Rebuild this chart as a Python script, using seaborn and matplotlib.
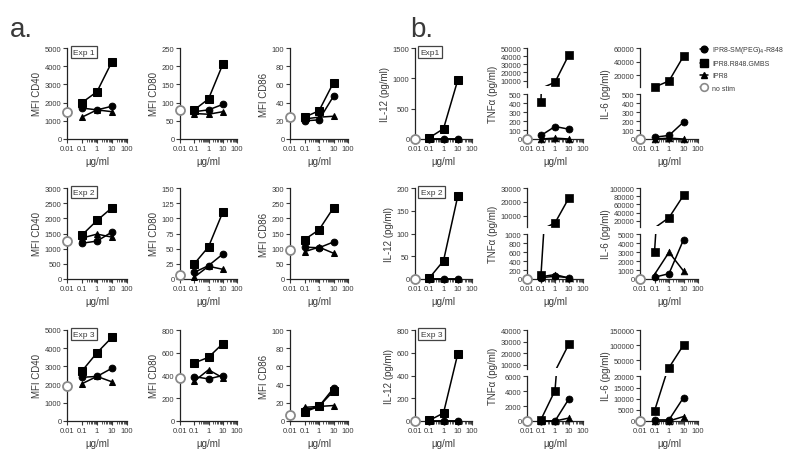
import numpy as np
import matplotlib
matplotlib.use("Agg")
import matplotlib.pyplot as plt
import seaborn as sns
from matplotlib.lines import Line2D
from matplotlib.patches import Rectangle
from matplotlib.ticker import FixedLocator, NullFormatter

# doses (µg/ml); "no stim" is drawn at the left edge of the axis
doses = [0.1, 1, 10]
nostim_dose = 0.01

# ---- panel a: MFI, one row per experiment ----
cd40_gmbs = [[2000, 2600, 4250], [1450, 1930, 2350], [2750, 3750, 4600]]
cd40_peg = [[1700, 1600, 1800], [1180, 1250, 1550], [2400, 2450, 2900]]
cd40_ipr8 = [[1200, 1600, 1500], [1350, 1480, 1380], [2050, 2450, 2150]]
cd40_nostim = [1500, 1250, 1900]
cd40_ymax = [5000, 3000, 5000]
cd40_ystep = [1000, 500, 1000]

cd80_gmbs = [[80, 110, 205], [25, 53, 110], [510, 560, 680]]
cd80_peg = [[75, 80, 95], [11, 22, 41], [390, 370, 400]]
cd80_ipr8 = [[70, 68, 75], [3, 21, 16], [350, 450, 380]]
cd80_nostim = [80, 6, 380]
cd80_ymax = [250, 150, 800]
cd80_ystep = [50, 25, 200]

cd86_gmbs = [[24, 31, 62], [130, 162, 235], [10, 16, 33]]
cd86_peg = [[20, 21, 47], [105, 103, 122], [12, 16, 36]]
cd86_ipr8 = [[22, 24, 25], [90, 105, 85], [15, 16, 17]]
cd86_nostim = [24, 95, 7]
cd86_ymax = [100, 300, 100]
cd86_ystep = [20, 50, 20]

# ---- panel b: cytokines (pg/ml) ----
il12_gmbs = [[20, 170, 970], [2, 40, 182], [5, 70, 590]]
il12_peg = [[0, 0, 0], [0, 0, 0], [0, 0, 0]]
il12_ipr8 = [[0, 0, 0], [0, 0, 0], [0, 0, 0]]
il12_nostim = [0, 0, 0]
il12_ymax = [1500, 200, 800]
il12_ystep = [500, 50, 200]

tnf_gmbs = [[420, 8000, 42000], [100, 5000, 23000], [200, 4100, 28000]]
tnf_peg = [[40, 140, 110], [30, 60, 30], [0, 0, 3000]]
tnf_ipr8 = [[0, 10, 0], [50, 100, 20], [0, 0, 400]]
tnf_nostim = [0, 0, 0]
tnf_low_max = [500, 1000, 6000]
tnf_low_step = [100, 200, 2000]
tnf_high_lim = [(2000, 50000), (2000, 30000), (6000, 40000)]
tnf_high_ticks = [[10000, 20000, 30000, 40000, 50000], [10000, 20000, 30000],
                  [10000, 20000, 30000, 40000]]

il6_gmbs = [[3000, 12000, 48000], [3000, 28000, 82000], [4500, 25000, 100000]]
il6_peg = [[20, 40, 190], [200, 600, 4400], [500, 500, 10500]]
il6_ipr8 = [[0, 10, 0], [500, 3000, 900], [0, 0, 2000]]
il6_nostim = [0, 0, 0]
il6_low_max = [500, 5000, 20000]
il6_low_step = [100, 1000, 5000]
il6_high_lim = [(3000, 60000), (5000, 100000), (20000, 150000)]
il6_high_ticks = [[20000, 40000, 60000], [20000, 40000, 60000, 80000, 100000],
                  [50000, 100000, 150000]]

exp_a = ["Exp 1", "Exp 2", "Exp 3"]
exp_b = ["Exp1", "Exp 2", "Exp 3"]
legend_labels = ["IPR8-SM(PEG)$_4$-R848", "IPR8.R848.GMBS", "IPR8", "no stim"]

sns.set_style("ticks")
plt.rcParams['font.family'] = ['Liberation Sans', 'DejaVu Sans']
TXT = "#3a3a3a"
plt.rcParams.update({"text.color": TXT, "axes.labelcolor": TXT,
                     "xtick.color": TXT, "ytick.color": TXT,
                     "axes.edgecolor": "#222222", "axes.linewidth": 0.9})

W, H = 800, 464
fig = plt.figure(figsize=(8, 4.64), dpi=100)


def box(x0, x1, y0, y1):
    return [x0 / W, 1 - y1 / H, (x1 - x0) / W, (y1 - y0) / H]


cols_a = [(67, 127), (180, 237), (290, 348)]
cols_b = [(415, 472), (527, 583), (640, 698)]
rows = [(49, 140), (189, 280), (331, 422)]

LW = 1.1
# marker, markersize (pt) for each series
MK = {"peg": ("o", 4.8), "gmbs": ("s", 5.2), "ipr8": ("^", 4.6)}


def style_x(ax, show=True):
    ax.set_xscale("log")
    ax.set_xlim(0.01, 100)
    if not show:
        ax.spines["bottom"].set_visible(False)
        ax.tick_params(axis="x", which="both", bottom=False, labelbottom=False)
        return
    ax.xaxis.set_major_locator(FixedLocator([0.01, 0.1, 1, 10, 100]))
    ax.set_xticklabels(["0.01", "0.1", "1", "10", "100"])
    minors = [m * d for d in (0.1, 1, 10) for m in range(2, 10)]
    ax.xaxis.set_minor_locator(FixedLocator(minors))
    ax.xaxis.set_minor_formatter(NullFormatter())
    ax.tick_params(axis="x", which="major", length=3, width=0.8, labelsize=5.5, pad=1.5)
    ax.tick_params(axis="x", which="minor", length=2, width=0.6)
    ax.set_xlabel("µg/ml", fontsize=7, labelpad=3)


def style_y(ax, lim, ticks):
    ax.set_ylim(*lim)
    ax.yaxis.set_major_locator(FixedLocator(ticks))
    ax.set_yticklabels([str(t) for t in ticks])
    ax.tick_params(axis="y", length=3, width=0.8, labelsize=5.5, pad=1)
    ax.spines["top"].set_visible(False)
    ax.spines["right"].set_visible(False)


def draw(ax, gmbs, peg, ipr8, nostim):
    for key, vals in (("ipr8", ipr8), ("peg", peg), ("gmbs", gmbs)):
        m, ms = MK[key]
        sns.lineplot(x=doses, y=vals, ax=ax, color="black", marker=m, markersize=ms,
                     markeredgecolor="black", linewidth=LW, zorder=4)
    sns.scatterplot(x=[nostim_dose], y=[nostim], ax=ax, marker="o", s=42,
                    facecolor="white", edgecolor="#8a8a8a", linewidth=1.3, zorder=6)
    for art in list(ax.lines) + list(ax.collections):
        art.set_clip_on(False)


def draw_segment(ax, gmbs, peg, ipr8, nostim, lo, hi, lower):
    # lines are clipped to the segment, markers only where the value falls inside it
    if lower:
        clip = ((-0.1, -0.2), 1.2, 1.2)
    else:
        clip = ((-0.1, 0.04), 1.2, 1.2)
    for key, vals in (("ipr8", ipr8), ("peg", peg), ("gmbs", gmbs)):
        m, ms = MK[key]
        sns.lineplot(x=doses, y=vals, ax=ax, color="black", linewidth=LW, zorder=4)
        ax.lines[-1].set_clip_path(Rectangle(clip[0], clip[1], clip[2], transform=ax.transAxes))
        xs = [d for d, v in zip(doses, vals) if lo <= v <= hi]
        ys = [v for v in vals if lo <= v <= hi]
        if xs:
            sns.scatterplot(x=xs, y=ys, ax=ax, marker=m, s=(ms * 1.05) ** 2, color="black",
                            edgecolor="black", linewidth=0.5, zorder=5, clip_on=False)
    if lower:
        sns.scatterplot(x=[nostim_dose], y=[nostim], ax=ax, marker="o", s=42,
                        facecolor="white", edgecolor="#8a8a8a", linewidth=1.3, zorder=6,
                        clip_on=False)


def simple_panel(xr, yr, gmbs, peg, ipr8, nostim, ymax, ystep, ylabel, exp=None):
    ax = fig.add_axes(box(xr[0], xr[1], yr[0], yr[1]))
    style_x(ax)
    style_y(ax, (0, ymax), list(range(0, ymax + 1, ystep)))
    draw(ax, gmbs, peg, ipr8, nostim)
    ax.set_ylabel(ylabel, fontsize=7, labelpad=2)
    if exp:
        ax.text(0.1, 0.99, exp, transform=ax.transAxes, va="top", ha="left", fontsize=6,
                bbox=dict(boxstyle="square,pad=0.3", fc="white", ec="#444444", lw=0.9))
    return ax


def broken_panel(xr, yr, gmbs, peg, ipr8, nostim, low_max, low_step, high_lim, high_ticks, ylabel):
    h = yr[1] - yr[0]
    up = fig.add_axes(box(xr[0], xr[1], yr[0], yr[0] + 0.43 * h))
    lo = fig.add_axes(box(xr[0], xr[1], yr[0] + 0.51 * h, yr[1]))
    style_x(up, show=False)
    style_x(lo)
    style_y(up, high_lim, high_ticks)
    style_y(lo, (0, low_max), list(range(0, low_max + 1, low_step)))
    draw_segment(up, gmbs, peg, ipr8, nostim, high_lim[0], high_lim[1], lower=False)
    draw_segment(lo, gmbs, peg, ipr8, nostim, 0, low_max, lower=True)
    fig.text((xr[0] - 34) / W, 1 - (yr[0] + yr[1]) / 2 / H, ylabel, rotation=90,
             ha="center", va="center", fontsize=7)


for r in range(3):
    yr = rows[r]
    simple_panel(cols_a[0], yr, cd40_gmbs[r], cd40_peg[r], cd40_ipr8[r], cd40_nostim[r],
                 cd40_ymax[r], cd40_ystep[r], "MFI CD40", exp_a[r])
    simple_panel(cols_a[1], yr, cd80_gmbs[r], cd80_peg[r], cd80_ipr8[r], cd80_nostim[r],
                 cd80_ymax[r], cd80_ystep[r], "MFI CD80")
    simple_panel(cols_a[2], yr, cd86_gmbs[r], cd86_peg[r], cd86_ipr8[r], cd86_nostim[r],
                 cd86_ymax[r], cd86_ystep[r], "MFI CD86")
    simple_panel(cols_b[0], yr, il12_gmbs[r], il12_peg[r], il12_ipr8[r], il12_nostim[r],
                 il12_ymax[r], il12_ystep[r], "IL-12 (pg/ml)", exp_b[r])
    broken_panel(cols_b[1], yr, tnf_gmbs[r], tnf_peg[r], tnf_ipr8[r], tnf_nostim[r],
                 tnf_low_max[r], tnf_low_step[r], tnf_high_lim[r], tnf_high_ticks[r],
                 "TNFα (pg/ml)")
    broken_panel(cols_b[2], yr, il6_gmbs[r], il6_peg[r], il6_ipr8[r], il6_nostim[r],
                 il6_low_max[r], il6_low_step[r], il6_high_lim[r], il6_high_ticks[r],
                 "IL-6 (pg/ml)")

fig.text(10 / W, 1 - 30 / H, "a.", fontsize=20, va="center", ha="left")
fig.text(410 / W, 1 - 30 / H, "b.", fontsize=20, va="center", ha="left")

handles = [
    Line2D([], [], color="black", marker="o", markersize=4.8, lw=LW),
    Line2D([], [], color="black", marker="s", markersize=5.2, lw=LW),
    Line2D([], [], color="black", marker="^", markersize=4.6, lw=LW),
    Line2D([], [], color="#8a8a8a", marker="o", markersize=5.5, lw=LW,
           markerfacecolor="white", markeredgewidth=1.2),
]
fig.legend(handles, legend_labels, loc="upper left", bbox_to_anchor=(700 / W, 1 - 45 / H),
           frameon=False, fontsize=5, handlelength=1.2, handletextpad=0.6,
           labelspacing=0.75, borderaxespad=0, borderpad=0)

fig.savefig("out.png", dpi=100, facecolor="white")
